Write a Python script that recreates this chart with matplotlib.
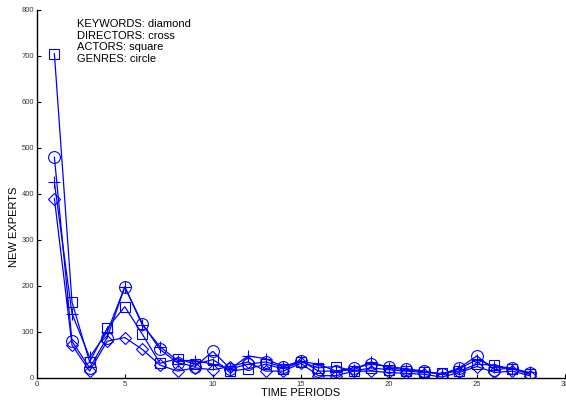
import matplotlib
matplotlib.use("Agg")
import matplotlib.pyplot as plt

plt.rcParams['font.family'] = ['Liberation Sans', 'DejaVu Sans']

periods = list(range(1, 29))

keywords = [390, 72, 15, 80, 88, 62, 28, 15, 22, 18, 25, 35, 15, 15, 32, 5, 5, 15, 15, 12, 10, 8, 2, 12, 25, 12, 15, 5]
directors = [425, 140, 45, 100, 198, 115, 68, 38, 38, 30, 20, 48, 42, 25, 36, 30, 15, 18, 35, 22, 18, 14, 8, 20, 40, 25, 20, 12]
actors = [705, 165, 35, 108, 155, 95, 32, 42, 30, 40, 15, 20, 30, 20, 35, 22, 25, 15, 22, 18, 15, 12, 10, 15, 30, 28, 20, 8]
genres = [480, 80, 22, 88, 198, 118, 62, 33, 25, 58, 20, 30, 35, 24, 38, 15, 15, 22, 30, 25, 20, 15, 8, 22, 48, 18, 22, 10]

xticks = [0, 5, 10, 15, 20, 25, 30]
yticks = [0, 100, 200, 300, 400, 500, 600, 700, 800]
note_lines = ["KEYWORDS: diamond", "DIRECTORS: cross", "ACTORS: square", "GENRES: circle"]

blue = "#0000ff"

fig = plt.figure(figsize=(5.66, 4.0), dpi=100)
ax = fig.add_axes([0.065, 0.055, 0.933, 0.92])

style = dict(color=blue, lw=0.9, markerfacecolor="none", markeredgecolor=blue, markeredgewidth=0.8)
ax.plot(periods, keywords, marker="D", ms=6.5, **style)
ax.plot(periods, directors, marker="+", ms=9, **style)
ax.plot(periods, actors, marker="s", ms=7, **style)
ax.plot(periods, genres, marker="o", ms=8.5, **style)

ax.set_xlim(0, 30)
ax.set_ylim(0, 800)
ax.set_xticks(xticks)
ax.set_yticks(yticks)
ax.tick_params(direction="in", length=3, width=0.8, labelsize=5.5, colors="black", labelcolor="#333333", pad=2)
for side in ("top", "right"):
    ax.spines[side].set_visible(False)
for side in ("left", "bottom"):
    ax.spines[side].set_linewidth(1.0)

ax.set_xlabel("TIME PERIODS", fontsize=8, labelpad=0)
ax.set_ylabel("NEW EXPERTS", fontsize=8)
ax.yaxis.set_label_coords(-0.034, 0.41)

ax.text(2.3, 780, "\n".join(note_lines), fontsize=8, va="top", ha="left", linespacing=1.2)

fig.savefig("out.png", dpi=100)
